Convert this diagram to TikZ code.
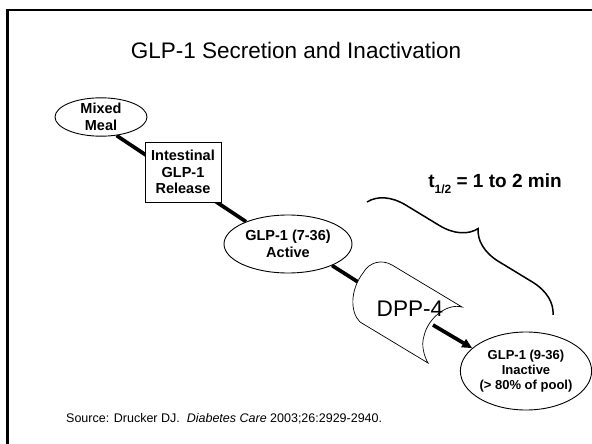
\documentclass[tikz,border=0pt]{standalone}
\usepackage{fontspec}
\setmainfont{Liberation Sans}
\usetikzlibrary{shapes.geometric,decorations.pathreplacing,arrows.meta}
\pgfdeclarelayer{background}
\pgfsetlayers{background,main}
\begin{document}
\begin{tikzpicture}[x=1pt,y=-1pt,
  lbl/.style={font=\fontsize{14.5}{16.5}\selectfont\bfseries, align=center, inner sep=0pt},
  oval/.style={ellipse, draw, line width=0.9pt, fill=white, inner sep=0pt},
  conn/.style={line width=3.7pt},
  tipconn/.style={conn, -{Triangle[length=10pt,width=9pt]}},
]
\useasboundingbox (0,0) rectangle (592,444);
\draw[line width=2.5pt] (7.5,444) -- (7.5,10) -- (592,10);
\node[font=\fontsize{22.5}{26}\selectfont, anchor=base, inner sep=0pt] (title) at (296,58.5) {GLP-1 Secretion and Inactivation};

\node[oval, lbl, minimum width=92pt, minimum height=38pt] (mm) at (101,117) {Mixed\\Meal};
\node[draw, line width=0.9pt, fill=white, lbl, minimum width=76pt, minimum height=60pt] (ir) at (183,172) {Intestinal\\GLP-1\\Release};
\node[oval, lbl, minimum width=128pt, minimum height=58pt] (act) at (288,244) {GLP-1 (7-36)\\Active};
\node[oval, lbl, font=\fontsize{13}{15}\selectfont\bfseries, minimum width=128pt, minimum height=78pt] (inact) at (526,371) {GLP-1 (9-36)\\Inactive\\(> 80\% of pool)};

% DPP-4 shape
\draw[line width=0.7pt, fill=white] (462,307) -- (392,265)
  .. controls (382,259) and (369,262) .. (363,273)
  .. controls (350,290) and (350,312) .. (360,322)
  -- (428,363)
  .. controls (424,356) and (421,345) .. (424,336)
  .. controls (428,318) and (447,303) .. (462,307) -- cycle;
\node[font=\fontsize{22.6}{26}\selectfont, inner sep=0pt] (dpp) at (410,309) {DPP-4};
\coordinate (dppL) at (358,282);
\coordinate (dppR) at (433,325);

\begin{pgfonlayer}{background}
\draw[conn] (mm.-50) -- (act.152);
\draw[conn] (act.-26) -- (dppL);
\draw[tipconn] (dppR) -- (inact.157);
\end{pgfonlayer}

\draw[line width=1.5pt, decorate, decoration={brace, amplitude=35pt}] (367,202) coordinate (b1) -- (553,315) coordinate (b2);
\node[font=\fontsize{19}{22}\selectfont\bfseries, inner sep=0pt] (thalf) at (495,184) {t\raisebox{-0.3em}{\fontsize{12}{12}\selectfont 1/2} = 1 to 2 min};

\node[anchor=base west, font=\fontsize{12.5}{14}\selectfont, inner sep=0pt] (src) at (66,422) {Source: Drucker DJ.\ \ \textit{Diabetes Care} 2003;26:2929-2940.};
\end{tikzpicture}
\end{document}
